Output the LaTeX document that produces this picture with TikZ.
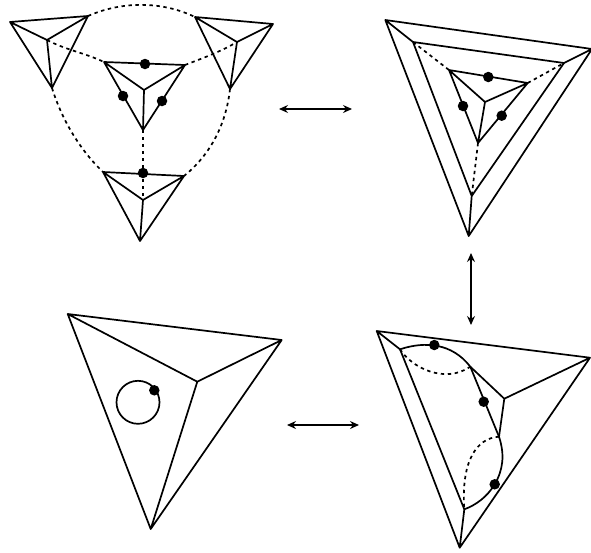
\documentclass[tikz,border=0pt]{standalone}
\usetikzlibrary{arrows.meta}
\tikzset{
  edge/.style={line width=1.7pt,line join=round,line cap=round},
  dashline/.style={line width=1.7pt,dash pattern=on 3.4pt off 3.6pt},
  dotmark/.style={circle,fill=black,inner sep=0pt,minimum size=10.5pt},
  swaparrow/.style={line width=1.3pt,{Stealth[length=9pt,width=8pt,inset=3pt]}-{Stealth[length=9pt,width=8pt,inset=3pt]}},
}
\newcommand{\trifig}[4]{% a,b,c,center names
  \draw[edge] (#1)--(#2)--(#3)--cycle (#1)--(#4) (#2)--(#4) (#3)--(#4);
}
\begin{document}
\begin{tikzpicture}[x=1pt,y=-1pt]
\useasboundingbox (0,0) rectangle (591,552);
% top left
\coordinate (a1) at (10,22); \coordinate (a2) at (88,16); \coordinate (a3) at (52,88); \coordinate (ac) at (47,40);
\coordinate (b1) at (195,17); \coordinate (b2) at (273,24); \coordinate (b3) at (230,89); \coordinate (bc) at (237,42);
\coordinate (c1) at (104,62); \coordinate (c2) at (185,65); \coordinate (c3) at (143,130); \coordinate (cc) at (144,90);
\coordinate (d1) at (103,172); \coordinate (d2) at (184,176); \coordinate (d3) at (140,241); \coordinate (dc) at (143,200);
\trifig{a1}{a2}{a3}{ac}
\trifig{b1}{b2}{b3}{bc}
\trifig{c1}{c2}{c3}{cc}
\trifig{d1}{d2}{d3}{dc}
\draw[dashline] (a2) .. controls (122,1) and (162,1) .. (b1);
\draw[dashline] (ac) .. controls (66,50) and (85,53) .. (c1);
\draw[dashline] (c2) .. controls (203,58) and (220,52) .. (bc);
\draw[dashline] (a3) .. controls (62,120) and (80,150) .. (d1);
\draw[dashline] (b3) .. controls (226,125) and (210,155) .. (d2);
\draw[dashline] (c3) -- (dc);
\node[dotmark] (p1) at (145,64) {};
\node[dotmark] (p2) at (123,96) {};
\node[dotmark] (p3) at (162,101) {};
\node[dotmark] (p4) at (143,173) {};
% top right
\coordinate (e1) at (385.3,20); \coordinate (e2) at (592,49); \coordinate (e3) at (468.7,236);
\coordinate (f1) at (413,42); \coordinate (f2) at (564,63); \coordinate (f3) at (471.7,196);
\coordinate (g1) at (449,70); \coordinate (g2) at (527.7,83); \coordinate (g3) at (478,143); \coordinate (gc) at (485,102);
\draw[edge] (e1)--(e2)--(e3)--cycle (f1)--(f2)--(f3)--cycle (e1)--(f1) (e2)--(f2) (e3)--(f3);
\trifig{g1}{g2}{g3}{gc}
\draw[dashline] (f1)--(g1);
\draw[dashline] (g2)--(f2);
\draw[dashline] (g3)--(f3);
\node[dotmark] (q1) at (488.3,77) {};
\node[dotmark] (q2) at (463,106) {};
\node[dotmark] (q3) at (501.7,115.7) {};
% bottom left
\coordinate (h1) at (67.7,314); \coordinate (h2) at (281.7,340); \coordinate (h3) at (150.7,529); \coordinate (hc) at (197.3,381.7);
\trifig{h1}{h2}{h3}{hc}
\node[draw,circle,line width=1.7pt,minimum size=43pt,inner sep=0pt] (loop) at (138,402.3) {};
\node[dotmark] (r1) at (154.3,390.3) {};
% bottom right
\coordinate (k1) at (376.7,331); \coordinate (k2) at (590,357.7); \coordinate (k3) at (459.7,547.7);
\coordinate (m1) at (400,349.3); \coordinate (m3) at (464.3,509.3); \coordinate (mc) at (504.3,398.7);
\coordinate (u) at (470.3,366.7); \coordinate (v) at (499,436.7);
\draw[edge] (k1)--(k2)--(k3)--cycle (k1)--(m1)--(m3)--(k3) (k2)--(mc)--(u) (mc)--(v);
\draw[edge] (u)--(v);
\draw[edge] (m1) .. controls (425,341) and (452,343) .. (u);
\draw[edge] (v) .. controls (505,455) and (503,470) .. (494.7,484.3) .. controls (487,497) and (476,505) .. (m3);
\draw[dashline] (m1) .. controls (412,368) and (445,384) .. (u);
\draw[dashline] (v) .. controls (476,438) and (461,462) .. (m3);
\node[dotmark] (s1) at (434.3,345) {};
\node[dotmark] (s2) at (483.7,401.7) {};
\node[dotmark] (s3) at (494.7,484.3) {};
% arrows
\coordinate (t1) at (279,109); \coordinate (t2) at (352,109);
\coordinate (t3) at (287,425); \coordinate (t4) at (359,425);
\coordinate (t5) at (471,253); \coordinate (t6) at (471,325);
\draw[swaparrow] (t1)--(t2);
\draw[swaparrow] (t3)--(t4);
\draw[swaparrow] (t5)--(t6);
\end{tikzpicture}
\end{document}
